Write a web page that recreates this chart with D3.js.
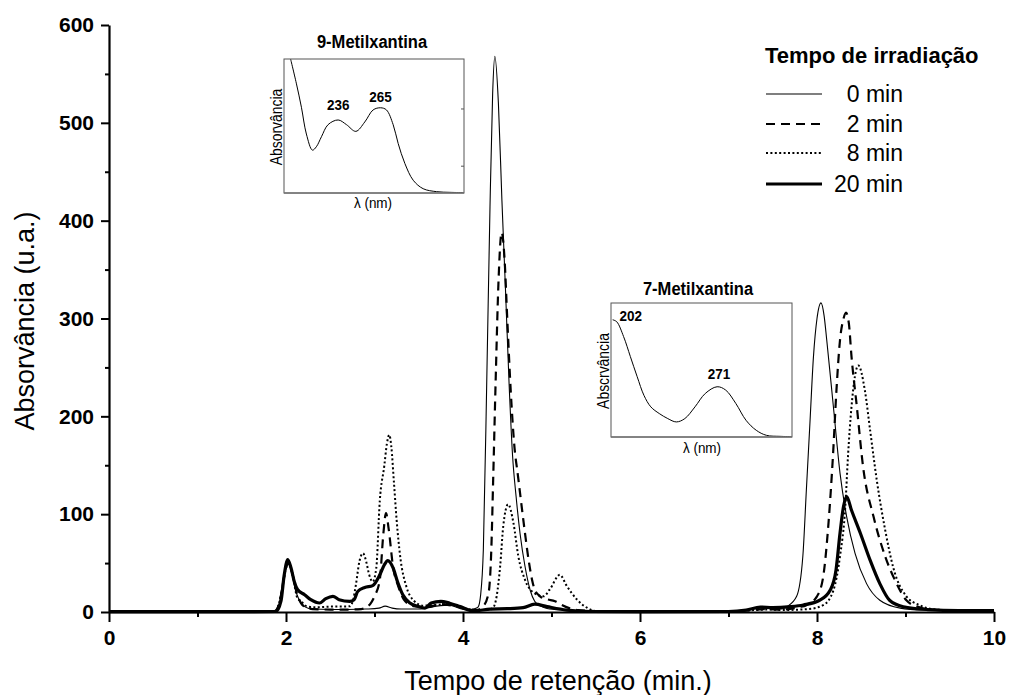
<!DOCTYPE html>
<html>
<head>
<meta charset="utf-8">
<script src="https://cdn.jsdelivr.net/npm/d3@7"></script>
<style>
  html, body { margin: 0; padding: 0; background: #fff; }
  svg { display: block; }
  text { font-family: "Liberation Sans", Arial, Helvetica, sans-serif; fill: #000; }
</style>
</head>
<body>
<svg id="chart" width="1011" height="695"></svg>
<script>
// ---------- DATA ----------
const xTicks = [0, 2, 4, 6, 8, 10];
const xMinorTicks = [1, 3, 5, 7, 9];
const yTicks = [0, 100, 200, 300, 400, 500, 600];
const yMinorTicks = [50, 150, 250, 350, 450, 550];

const legendTitle = "Tempo de irradiação";
const seriesNames = ["0 min", "2 min", "8 min", "20 min"];

// retention time (min), absorbance (u.a.)
const series0min = [[0,0.5],[0.5,0.8],[1.0,0.5],[1.5,0.8],[1.85,0.5],[1.92,8],[1.97,35],[2.02,50],[2.06,42],[2.1,25],[2.15,12],[2.22,5],[2.3,3],[2.5,2.5],[2.7,2.5],[2.9,3],[3.05,4],[3.12,6],[3.2,4],[3.3,3],[3.5,3],[3.7,6],[3.85,7],[3.95,4],[4.05,2],[4.12,3],[4.17,5],[4.2,18],[4.23,64],[4.27,244],[4.305,414],[4.335,530],[4.36,568],[4.4,520],[4.44,420],[4.48,330],[4.52,235],[4.56,160],[4.6,118],[4.645,80],[4.7,47],[4.76,22],[4.81,11],[4.88,6],[4.95,3.5],[5.1,2],[5.5,1],[6,0.8],[6.5,0.5],[7,1],[7.2,2],[7.35,4.5],[7.5,3.5],[7.6,3],[7.66,5.4],[7.77,16],[7.84,57],[7.88,125],[7.92,193],[7.96,261],[8.0,300],[8.045,316],[8.08,303],[8.11,278],[8.185,210],[8.26,142],[8.336,97],[8.43,60],[8.56,29],[8.71,12],[8.94,4],[9.2,2],[9.5,1.5],[10,1.5]];

const series2min = [[0,0.3],[1.0,0.3],[1.88,0.5],[1.95,20],[2.0,45],[2.03,50],[2.07,40],[2.12,20],[2.2,6],[2.3,3],[2.5,2.5],[2.7,2.5],[2.85,3],[2.95,8],[3.0,16],[3.06,33],[3.1,80],[3.13,101],[3.16,85],[3.21,46],[3.27,26],[3.33,13],[3.44,6],[3.6,5],[3.75,8],[3.9,6],[4.05,3],[4.15,2],[4.23,6],[4.29,20],[4.32,64],[4.34,132],[4.37,240],[4.40,335],[4.437,388],[4.47,360],[4.50,300],[4.54,225],[4.58,170],[4.62,140],[4.644,122],[4.70,81],[4.74,54],[4.78,33],[4.81,23],[4.87,16],[4.95,13],[5.04,11],[5.10,8],[5.2,4],[5.3,2],[5.5,1],[6,0.5],[7,0.5],[7.2,1.5],[7.4,3],[7.6,2.5],[7.8,5],[7.88,7],[8.0,16],[8.07,36],[8.13,91],[8.18,159],[8.22,227],[8.26,278],[8.30,300],[8.328,306],[8.36,295],[8.39,261],[8.45,210],[8.52,149],[8.64,97],[8.77,57],[8.90,29],[9.01,12],[9.15,5],[9.3,2.5],[9.6,1.5],[10,1.5]];

const series8min = [[0,0.3],[1.0,0.3],[1.88,0.5],[1.95,20],[2.0,45],[2.03,50],[2.07,40],[2.13,14],[2.17,11],[2.23,6],[2.32,4.8],[2.51,5.5],[2.72,5.8],[2.755,11],[2.79,28],[2.83,52],[2.87,60],[2.905,52],[2.94,38],[2.98,31],[3.02,45],[3.06,114],[3.11,149],[3.14,172],[3.167,181],[3.19,169],[3.22,132],[3.25,94],[3.29,57],[3.36,26],[3.44,12],[3.55,6.5],[3.72,7.5],[3.85,8],[4.0,4],[4.15,2],[4.28,2],[4.34,4.4],[4.38,16],[4.42,47],[4.455,88],[4.51,110],[4.57,91],[4.625,57],[4.70,33],[4.795,20],[4.91,16],[4.98,23],[5.095,38],[5.17,27],[5.285,13],[5.40,4.4],[5.51,1],[6,0.5],[7,0.5],[7.3,2],[7.45,2.5],[7.6,2],[7.9,3],[8.07,7],[8.185,22],[8.26,57],[8.32,108],[8.35,159],[8.39,210],[8.467,252],[8.54,227],[8.6,186],[8.675,135],[8.77,84],[8.86,46],[9.01,16],[9.16,7],[9.3,3],[9.6,1.5],[10,1.5]];

const series20min = [[0,0.3],[1.5,0.3],[1.887,0.5],[1.943,11],[1.98,38],[2.02,53.5],[2.057,45],[2.094,31],[2.13,23],[2.21,17.7],[2.28,12.6],[2.38,9.2],[2.45,13.6],[2.53,16],[2.60,12.6],[2.72,10.9],[2.77,12.6],[2.81,21],[2.89,25],[2.98,27],[3.06,38],[3.11,48],[3.15,52.5],[3.21,45],[3.26,31],[3.32,17.7],[3.40,9.2],[3.49,5.8],[3.57,4],[3.64,9.2],[3.75,10.9],[3.85,9],[3.97,5.5],[4.12,1],[4.31,3],[4.5,3.4],[4.68,4.4],[4.81,8],[4.95,5.5],[5.17,2],[5.45,0.5],[6,0.3],[7,0.5],[7.2,2],[7.36,5],[7.5,4.5],[7.7,5.5],[7.845,7.2],[8.03,12],[8.15,22.5],[8.215,43],[8.26,80.5],[8.30,108],[8.335,118],[8.39,104],[8.49,80.5],[8.6,53],[8.71,29],[8.82,12],[8.975,5.4],[9.25,2.5],[9.6,1.5],[10,1.5]];

// Inset UV spectra: wavelength (nm), normalised absorbance
const inset9Title = "9-Metilxantina";
const inset9Spectrum = [[203.5,1.0],[207.4,0.82],[210.9,0.64],[214.3,0.44],[218.4,0.32],[221.1,0.345],[224.6,0.42],[229.1,0.51],[236,0.545],[241.7,0.51],[248.1,0.46],[254.2,0.53],[259.9,0.62],[265,0.636],[269,0.62],[273.6,0.51],[277,0.37],[281.6,0.22],[287.3,0.095],[294.1,0.032],[303.3,0.01],[312.4,0.005],[322,0.0025]];
const inset9Peaks = [["236", 236, 0.545], ["265", 265, 0.636]];
const inset9Ticks = [0.2, 0.627];

const inset7Title = "7-Metilxantina";
const inset7Spectrum = [[202.1,0.875],[204.8,0.86],[209.3,0.75],[213.8,0.6],[218.3,0.45],[222.8,0.31],[227.3,0.225],[232.9,0.175],[238.5,0.1375],[244.2,0.1125],[249.8,0.1375],[256.5,0.225],[263.3,0.325],[271.1,0.375],[276.8,0.35],[283.5,0.25],[290.2,0.125],[297.0,0.05],[303.7,0.0125],[312.7,0.005],[320.6,0.0025]];
const inset7Peaks = [["202", 202, 0.875], ["271", 271, 0.375]];

// ---------- DRAW ----------
const svg = d3.select("#chart");
const x = d3.scaleLinear().domain([0, 10]).range([109, 994]);
const y = d3.scaleLinear().domain([0, 600]).range([612, 25]);

const styles = [
  { w: 1.1, dash: null },
  { w: 2.2, dash: "9,6" },
  { w: 2.0, dash: "2,2.4" },
  { w: 3.2, dash: null }
];
const allSeries = [series0min, series2min, series8min, series20min];

const line = d3.line().x(d => x(d[0])).y(d => y(d[1])).curve(d3.curveMonotoneX);

const plot = svg.append("g");
allSeries.forEach((s, i) => {
  plot.append("path")
    .datum(s)
    .attr("d", line)
    .attr("fill", "none")
    .attr("stroke", "#000")
    .attr("stroke-width", styles[i].w)
    .attr("stroke-linejoin", "round")
    .attr("stroke-dasharray", styles[i].dash);
});

// Axes
const fontTick = 21;
svg.append("g").attr("transform", `translate(${x(0)},0)`)
  .call(d3.axisLeft(y).tickValues(yTicks).tickSize(8).tickSizeOuter(0).tickPadding(7));
svg.append("g").attr("transform", `translate(${x(0)},0)`)
  .call(d3.axisLeft(y).tickValues(yMinorTicks).tickSize(4).tickSizeOuter(0).tickFormat(""))
  .select(".domain").remove();
svg.append("g").attr("transform", `translate(0,${y(0)})`)
  .call(d3.axisBottom(x).tickValues(xTicks).tickSize(10).tickSizeOuter(0).tickPadding(8));
svg.append("g").attr("transform", `translate(0,${y(0)})`)
  .call(d3.axisBottom(x).tickValues(xMinorTicks).tickSize(5).tickSizeOuter(0).tickFormat(""))
  .select(".domain").remove();

svg.selectAll(".domain").attr("stroke", "#000").attr("stroke-width", 2.2);
svg.selectAll(".tick line").attr("stroke", "#000").attr("stroke-width", 2);
svg.selectAll(".tick text")
  .style("font-family", '"Liberation Sans", Arial, sans-serif')
  .style("font-weight", "bold")
  .style("font-size", fontTick + "px")
  .attr("fill", "#000");

// Axis titles
svg.append("text")
  .attr("x", 558).attr("y", 690)
  .attr("text-anchor", "middle")
  .style("font-size", "27px")
  .text("Tempo de retenção (min.)");
svg.append("text")
  .attr("transform", "translate(34,321) rotate(-90)")
  .attr("text-anchor", "middle")
  .style("font-size", "27px")
  .text("Absorvância (u.a.)");

// Legend
const lg = svg.append("g");
lg.append("text").attr("x", 765).attr("y", 63)
  .style("font-size", "22px").style("font-weight", "bold").text(legendTitle);
const legendY = [94, 124, 153, 184];
seriesNames.forEach((name, i) => {
  lg.append("line")
    .attr("x1", 766).attr("x2", 822)
    .attr("y1", legendY[i]).attr("y2", legendY[i])
    .attr("stroke", "#000")
    .attr("stroke-width", styles[i].w)
    .attr("stroke-dasharray", styles[i].dash);
  lg.append("text")
    .attr("x", 903).attr("y", legendY[i] + 8)
    .attr("text-anchor", "end")
    .style("font-size", "23px")
    .text(name);
});

// Insets
function narrowText(g, tx, ty, rot, sx, size, weight, anchor, str) {
  g.append("text")
    .attr("transform", `translate(${tx},${ty})` + (rot ? ` rotate(${rot})` : "") + ` scale(${sx},1)`)
    .attr("text-anchor", anchor)
    .style("font-size", size + "px")
    .style("font-weight", weight)
    .text(str);
}

function drawInset(cfg) {
  const g = svg.append("g");
  const ix = d3.scaleLinear().domain(cfg.domain).range([cfg.x0, cfg.x1]);
  const iy = d3.scaleLinear().domain([0, 1]).range([cfg.y1, cfg.y0]);
  const clipId = "clip" + cfg.id;
  g.append("clipPath").attr("id", clipId).append("rect")
    .attr("x", cfg.x0).attr("y", cfg.y0)
    .attr("width", cfg.x1 - cfg.x0).attr("height", cfg.y1 - cfg.y0);
  g.append("path")
    .datum(cfg.data)
    .attr("clip-path", `url(#${clipId})`)
    .attr("d", d3.line().x(d => ix(d[0])).y(d => iy(d[1])).curve(d3.curveCatmullRom))
    .attr("fill", "none").attr("stroke", "#000").attr("stroke-width", 1);
  g.append("rect")
    .attr("x", cfg.x0).attr("y", cfg.y0)
    .attr("width", cfg.x1 - cfg.x0).attr("height", cfg.y1 - cfg.y0)
    .attr("fill", "none").attr("stroke", "#555").attr("stroke-width", 1);
  g.append("line").attr("x1", cfg.x0).attr("x2", cfg.x1)
    .attr("y1", cfg.y1).attr("y2", cfg.y1)
    .attr("stroke", "#777").attr("stroke-width", 1.6);
  (cfg.ticks || []).forEach(t => {
    g.append("line").attr("x1", cfg.x1).attr("x2", cfg.x1 - 3)
      .attr("y1", iy(t)).attr("y2", iy(t))
      .attr("stroke", "#555").attr("stroke-width", 1);
  });
  narrowText(g, cfg.titleX, cfg.titleY, 0, 0.87, 19, "bold", "middle", cfg.title);
  narrowText(g, cfg.x0 - 2, (cfg.y0 + cfg.y1) / 2 + 1, -90, 0.87, 16, "normal", "middle", cfg.ylabel);
  narrowText(g, cfg.lamX, cfg.y1 + cfg.lamDy, 0, 0.9, 15, "normal", "middle", "λ (nm)");
  cfg.peaks.forEach((p, k) => {
    narrowText(g, ix(p[1]) + cfg.peakDx[k], iy(p[2]) + cfg.peakDy[k], 0, 0.9, 15, "bold",
      cfg.peakAnchor[k], p[0]);
  });
}

drawInset({
  id: 9, x0: 284, x1: 464, y0: 59, y1: 193, domain: [199, 322],
  data: inset9Spectrum, title: inset9Title, titleX: 372, titleY: 48,
  ylabel: "Absorvância", lamX: 373, lamDy: 15, peaks: inset9Peaks, ticks: inset9Ticks,
  peakDx: [0, 0], peakDy: [-10, -6], peakAnchor: ["middle", "middle"]
});
drawInset({
  id: 7, x0: 611, x1: 792, y0: 303, y1: 437, domain: [201, 320.6],
  data: inset7Spectrum, title: inset7Title, titleX: 698, titleY: 295,
  ylabel: "Abscrvância", lamX: 702, lamDy: 16, peaks: inset7Peaks,
  peakDx: [7, 2], peakDy: [1, -8], peakAnchor: ["start", "middle"]
});
</script>
</body>
</html>
